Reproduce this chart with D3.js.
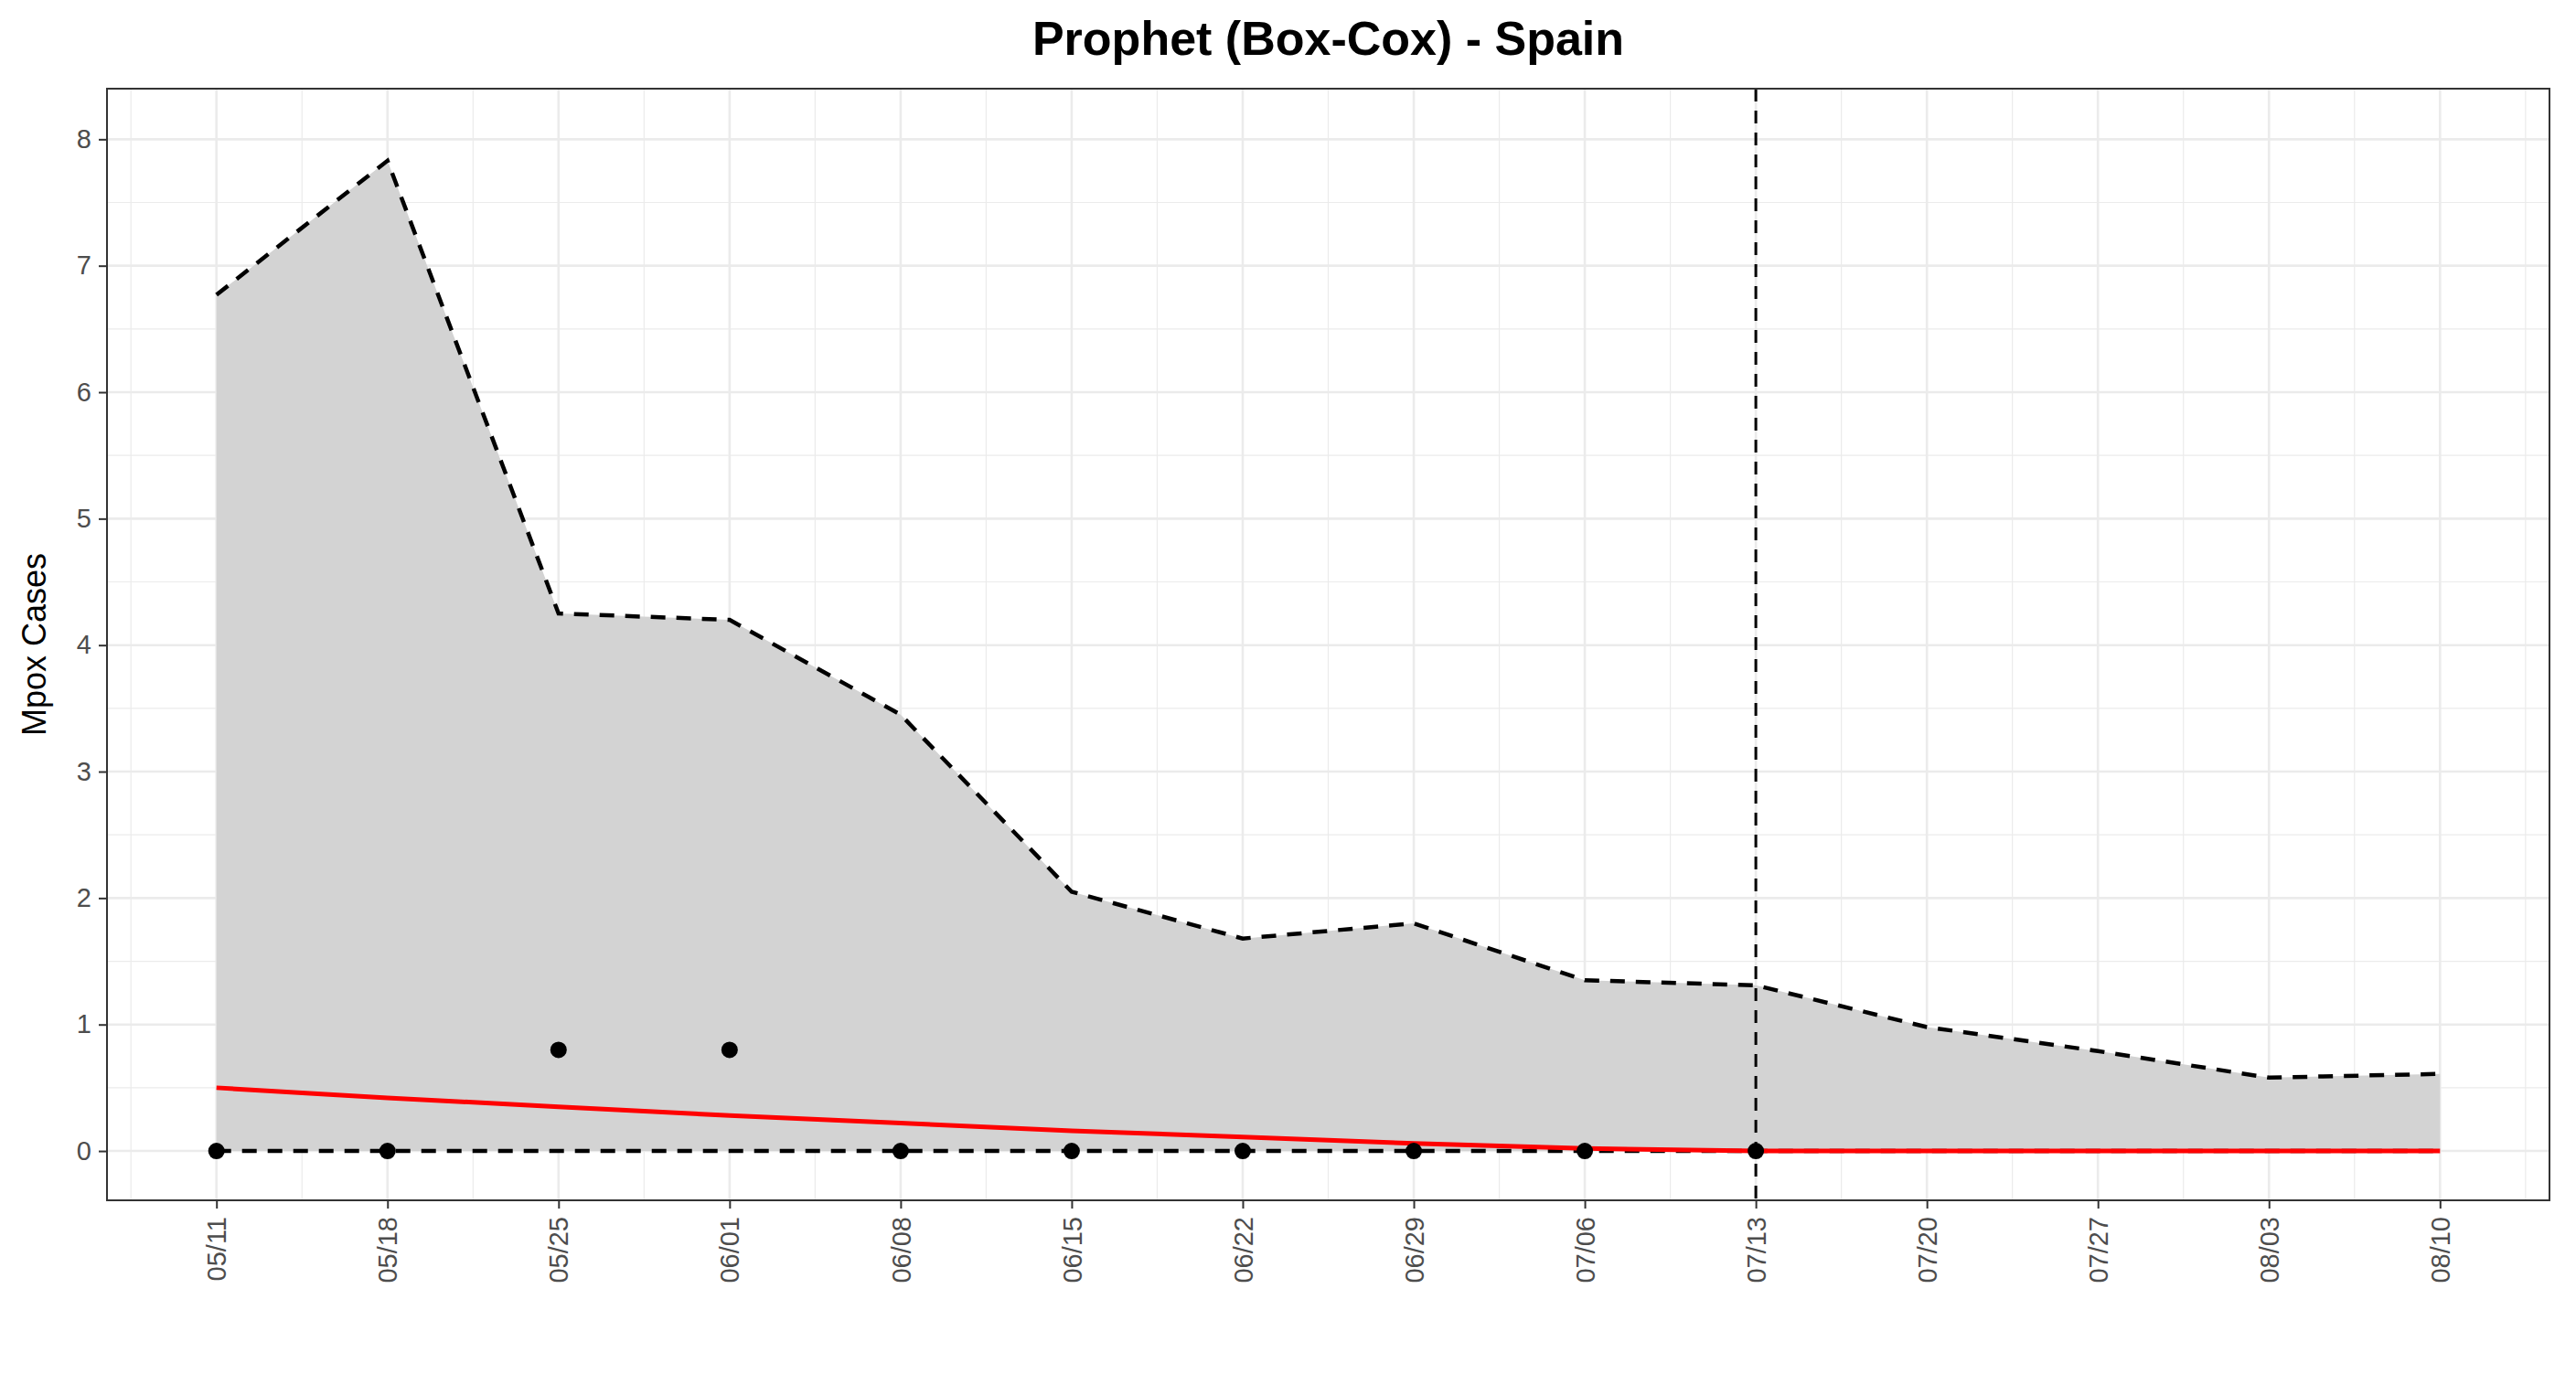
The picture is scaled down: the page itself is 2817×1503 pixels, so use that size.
<!DOCTYPE html>
<html>
<meta charset="utf-8">
<head>
<script src="https://d3js.org/d3.v7.min.js"></script>
<style>
  body { margin: 0; background: #fff; font-family: "Liberation Sans", Arial, sans-serif; }
  .grid line { stroke: #ebebeb; }
  .axis text { fill: #4d4d4d; font-size: 29px; }
  .axis line { stroke: #333; }
  .axis path { display: none; }
</style>
</head>
<body>
<svg id="chart" width="2817" height="1503"></svg>
<script>
var dates = ["05/11","05/18","05/25","06/01","06/08","06/15","06/22","06/29","07/06","07/13","07/20","07/27","08/03","08/10"]
var upper = [6.77, 7.83, 4.25, 4.2, 3.45, 2.05, 1.68, 1.8, 1.35, 1.31, 0.98, 0.79, 0.58, 0.61]
var lower = [0,0,0,0,0,0,0,0,0,0,0,0,0,0]
var forecast = [0.5, 0.42, 0.35, 0.28, 0.22, 0.16, 0.11, 0.06, 0.02, 0, 0, 0, 0, 0]
var actual = [0, 0, 0.8, 0.8, 0, 0, 0, 0, 0, 0]
var yTicks = [0,1,2,3,4,5,6,7,8]
var cutoff = 9  // index of 07/13

var margin = {top: 97, right: 29, bottom: 190, left: 117},
    W = 2817, H = 1503,
    width = W - margin.left - margin.right,
    height = H - margin.top - margin.bottom

var svg = d3.select("#chart")
var g = svg.append("g").attr("transform", "translate(" + margin.left + "," + margin.top + ")")

var x = d3.scaleLinear().domain([-0.64, 13.64]).range([0, width])
var y = d3.scaleLinear().domain([-0.39, 8.4]).range([height, 0])

/* grid: minor then major */
var grid = g.append("g").attr("class", "grid")
var minorX = d3.range(-0.5, 13.6, 1), minorY = d3.range(-0.5, 8.5, 1)
grid.selectAll(".mx").data(minorX).enter().append("line")
  .attr("x1", x).attr("x2", x).attr("y1", 0).attr("y2", height).attr("stroke-width", 1.2)
grid.selectAll(".my").data(minorY.filter(function(v){ return v > -0.39 })).enter().append("line")
  .attr("x1", 0).attr("x2", width).attr("y1", y).attr("y2", y).attr("stroke-width", 1.2)
grid.selectAll(".Mx").data(d3.range(dates.length)).enter().append("line")
  .attr("x1", x).attr("x2", x).attr("y1", 0).attr("y2", height).attr("stroke-width", 2.6)
grid.selectAll(".My").data(yTicks).enter().append("line")
  .attr("x1", 0).attr("x2", width).attr("y1", y).attr("y2", y).attr("stroke-width", 2.6)

/* ribbon */
g.append("path").datum(d3.range(dates.length))
  .attr("fill", "#d3d3d3")
  .attr("d", d3.area().x(function(i){ return x(i) }).y0(function(i){ return y(lower[i]) }).y1(function(i){ return y(upper[i]) }))

var line = function(arr){ return d3.line().x(function(d, i){ return x(i) }).y(function(d){ return y(d) })(arr) }
g.append("path").attr("d", line(upper)).attr("fill", "none").attr("stroke", "#000").attr("stroke-width", 4.5).attr("stroke-dasharray", "16,12")
g.append("path").attr("d", line(lower)).attr("fill", "none").attr("stroke", "#000").attr("stroke-width", 4.5).attr("stroke-dasharray", "16,12")
g.append("path").attr("d", line(forecast)).attr("fill", "none").attr("stroke", "#ff0000").attr("stroke-width", 5)

/* cutoff */
g.append("line").attr("x1", x(cutoff)).attr("x2", x(cutoff)).attr("y1", 0).attr("y2", height)
  .attr("stroke", "#000").attr("stroke-width", 3).attr("stroke-dasharray", "14,10")

g.selectAll(".pt").data(actual).enter().append("circle")
  .attr("cx", function(d, i){ return x(i) }).attr("cy", y).attr("r", 9).attr("fill", "#000")

/* axes */
var xa = g.append("g").attr("class", "axis").attr("transform", "translate(0," + height + ")")
  .call(d3.axisBottom(x).tickValues(d3.range(dates.length)).tickFormat(function(i){ return dates[i] }).tickSize(9).tickPadding(8))
xa.selectAll("line").attr("stroke-width", 2)
xa.selectAll("text").attr("transform", "rotate(-90)").attr("text-anchor", "end").attr("dx", "0").attr("dy", "0.35em").attr("x", -18).attr("y", 0)

var ya = g.append("g").attr("class", "axis")
  .call(d3.axisLeft(y).tickValues(yTicks).tickSize(9).tickPadding(8))
ya.selectAll("line").attr("stroke-width", 2)

g.append("rect").attr("width", width).attr("height", height).attr("fill", "none").attr("stroke", "#333").attr("stroke-width", 2)

svg.append("text").attr("x", margin.left + width / 2).attr("y", 60).attr("text-anchor", "middle")
  .attr("font-size", 52).attr("font-weight", "bold").text("Prophet (Box-Cox) - Spain")
svg.append("text").attr("transform", "translate(50," + (margin.top + height / 2) + ") rotate(-90)")
  .attr("text-anchor", "middle").attr("font-size", 36).text("Mpox Cases")
</script>
</body>
</html>
